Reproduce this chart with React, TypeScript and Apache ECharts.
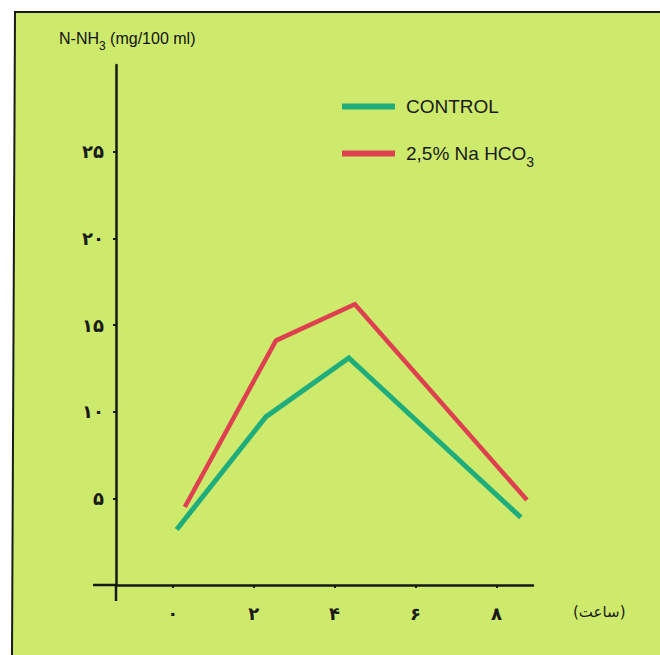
import React, { useEffect, useRef } from "react";
import * as echarts from "echarts";

// Time (hours) and N-NH3 (mg/100 ml) readings
const controlHours = [0.1, 2.3, 4.35, 8.6];
const controlValues = [3.2, 9.7, 13.1, 3.9];
const sodaHours = [0.3, 2.55, 4.5, 8.75];
const sodaValues = [4.5, 14.1, 16.2, 4.9];

const xTicks = [0, 2, 4, 6, 8];
const yTicks = [5, 10, 15, 20, 25];
const controlName = "CONTROL";
const sodaName = "2,5% Na HCO3";
const xAxisName = "(ساعت)";

const fa = (n: number) =>
  String(n).replace(/\d/g, (d) => "۰۱۲۳۴۵۶۷۸۹"[Number(d)]);

export default function App() {
  const ref = useRef<HTMLDivElement>(null);
  useEffect(() => {
    if (!ref.current) return;
    const chart = echarts.init(ref.current, null, { renderer: "svg" });
    const bg = "#cdea6c";
    const axisColor = "#151a10";
    chart.setOption({
      animation: false,
      backgroundColor: "#ffffff",
      graphic: [
        {
          type: "polygon",
          z: -10,
          shape: { points: [[15, 12], [660, 12], [660, 655], [12, 655]] },
          style: { fill: bg, stroke: "none" },
        },
        {
          type: "polyline",
          z: -9,
          shape: { points: [[12, 655], [15, 12], [660, 12]] },
          style: { stroke: "#1a1a1a", lineWidth: 2, fill: "none" },
        },
        {
          type: "line",
          z: 10,
          shape: { x1: 93, y1: 585, x2: 117, y2: 585 },
          style: { stroke: axisColor, lineWidth: 2.5 },
        },
        {
          type: "line",
          z: 10,
          shape: { x1: 116, y1: 584, x2: 116, y2: 601 },
          style: { stroke: axisColor, lineWidth: 2.5 },
        },
        {
          type: "text",
          left: 59,
          top: 30,
          style: {
            text: "{a|N-NH}{s|3}{a| (mg/100 ml)}",
            rich: {
              a: { fontSize: 16, fontFamily: "Liberation Sans", fill: "#111", lineHeight: 28 },
              s: { fontSize: 12, fontFamily: "Liberation Sans", fill: "#111", lineHeight: 28, verticalAlign: "bottom" },
            },
          },
        },
      ],
      grid: { left: 116, right: 127, top: 65, bottom: 70, containLabel: false },
      legend: {
        orient: "vertical",
        left: 337,
        top: 92,
        itemGap: 28,
        itemWidth: 53,
        itemHeight: 6,
        icon: "rect",
        data: [controlName, sodaName],
        formatter: (name: string) =>
          name === sodaName ? "{a|2,5% Na HCO}{s|3}" : "{a|CONTROL}",
        textStyle: {
          padding: [0, 0, 0, 6],
          rich: {
            a: { fontSize: 19, fontFamily: "Liberation Sans", color: "#1a1a1a", lineHeight: 30 },
            s: { fontSize: 14, fontFamily: "Liberation Sans", color: "#1a1a1a", lineHeight: 30, verticalAlign: "bottom" },
          },
        },
      },
      xAxis: {
        type: "value",
        min: -1.4,
        max: 8.9,
        name: xAxisName,
        nameLocation: "end",
        nameGap: 40,
        nameTextStyle: {
          fontSize: 15,
          fontFamily: "DejaVu Sans",
          color: "#1a1a1a",
          verticalAlign: "top",
          padding: [19, 0, 0, 0],
        },
        axisLine: { onZero: false, lineStyle: { color: axisColor, width: 2.5 } },
        axisTick: { show: true, customValues: xTicks, length: 3, lineStyle: { color: axisColor, width: 2 } },
        axisLabel: {
          customValues: xTicks,
          formatter: (v: number) => fa(v),
          margin: 19,
          fontSize: 18,
          fontWeight: "bold",
          fontFamily: "DejaVu Sans",
          color: "#1a1a1a",
        },
        splitLine: { show: false },
      },
      yAxis: {
        type: "value",
        min: 0,
        max: 30,
        axisLine: { onZero: false, lineStyle: { color: axisColor, width: 2.5 } },
        axisTick: { show: true, customValues: yTicks, length: 3, lineStyle: { color: axisColor, width: 2 } },
        axisLabel: {
          customValues: yTicks,
          formatter: (v: number) => fa(v),
          margin: 12,
          fontSize: 18,
          fontWeight: "bold",
          fontFamily: "DejaVu Sans",
          color: "#1a1a1a",
        },
        splitLine: { show: false },
      },
      series: [
        {
          name: controlName,
          type: "line",
          data: controlHours.map((h, i) => [h, controlValues[i]]),
          showSymbol: false,
          lineStyle: { color: "#20ad7c", width: 5, join: "miter" },
          itemStyle: { color: "#20ad7c" },
        },
        {
          name: sodaName,
          type: "line",
          data: sodaHours.map((h, i) => [h, sodaValues[i]]),
          showSymbol: false,
          lineStyle: { color: "#de4050", width: 4.5, join: "miter" },
          itemStyle: { color: "#de4050" },
        },
      ],
    });
    return () => chart.dispose();
  }, []);
  return (
    <div
      ref={ref}
      style={{ position: "fixed", left: 0, top: 0, width: 660, height: 655 }}
    />
  );
}
